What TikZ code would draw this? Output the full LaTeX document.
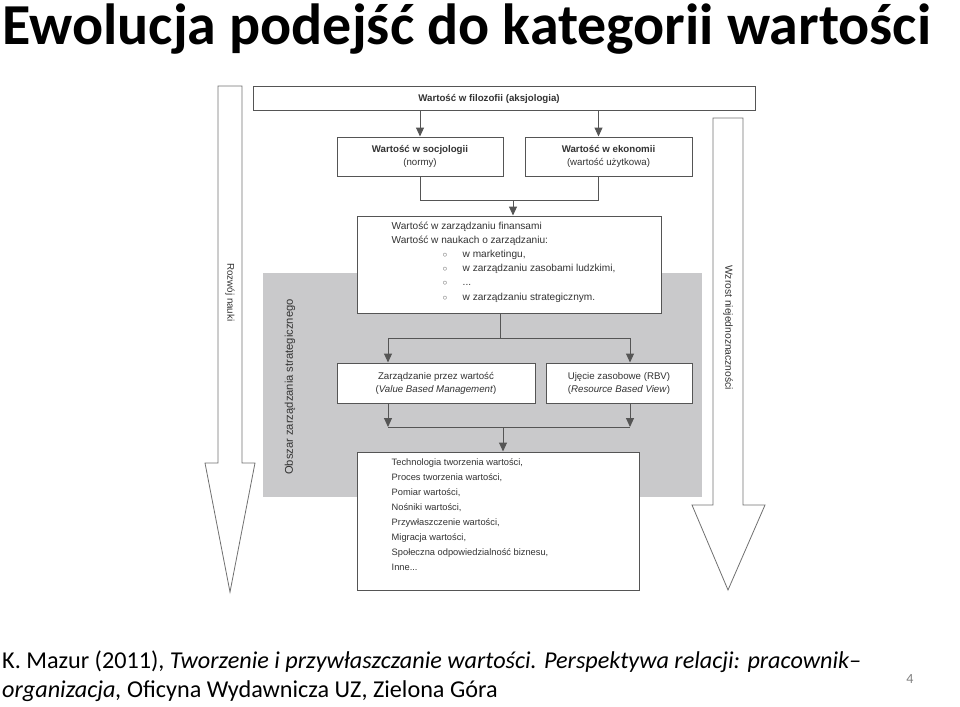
\documentclass[tikz,border=0pt]{standalone}
\usepackage{fontspec}
\setmainfont{Carlito}
\newfontfamily\diagfont{Liberation Sans}
\usepackage{xcolor}
\definecolor{frameGray}{HTML}{555555}
\definecolor{areaGray}{HTML}{C9C9CB}
\definecolor{textGray}{HTML}{333333}
\definecolor{arrowGray}{HTML}{707070}
\usetikzlibrary{arrows.meta,calc}

\begin{document}
\begin{tikzpicture}[x=1pt, y=-1pt, >={Triangle[width=8pt,length=9pt]},
  box/.style={draw=frameGray, line width=1pt, fill=white, inner sep=0pt, align=center,
    font=\diagfont\fontsize{9.7}{13}\selectfont, text=textGray},
  conn/.style={draw=frameGray, line width=1pt},
  txt/.style={anchor=north west, align=left, inner sep=0pt, text=textGray},
  sideTxt/.style={inner sep=0pt, text=textGray},
  bigArrow/.style={draw=arrowGray, line width=0.8pt, fill=white}]
  \useasboundingbox (0,0) rectangle (960,706);
  \node[anchor=base west, inner sep=0pt, font=\bfseries\fontsize{58}{70}\selectfont] (title) at (2,45) {Ewolucja podejść do kategorii wartości};
  % shaded area
  \fill[areaGray] (263,273) rectangle (702,497);
  \node[sideTxt, rotate=90, anchor=west, font=\diagfont\fontsize{11.2}{12}\selectfont] (obszar) at (290,475) {Obszar zarządzania strategicznego};
  % the two big arrows
  \draw[bigArrow] (218,86) -- (242,86) -- (242,463) -- (255,463) -- (230,592) -- (205,463) -- (218,463) -- cycle;
  \node[sideTxt, rotate=-90, anchor=west, font=\diagfont\fontsize{9.8}{11}\selectfont] (rozwoj) at (230,263) {Rozwój nauki};
  \draw[bigArrow] (713,118) -- (743,118) -- (743,505) -- (765,505) -- (728,590) -- (692,505) -- (713,505) -- cycle;
  \node[sideTxt, rotate=-90, anchor=west, font=\diagfont\fontsize{10.3}{11}\selectfont] (wzrost) at (728,265) {Wzrost niejednoznaczności};

  \node[box, minimum width=502, minimum height=24] (filo) at (504,99) {\bfseries Wartość w filozofii (aksjologia)\hspace*{30pt}};
  \node[box, minimum width=166, minimum height=39] (soc) at (420,156.5) {{\bfseries Wartość w socjologii}\\(normy)};
  \node[box, minimum width=167, minimum height=39] (eko) at (608.5,156.5) {{\bfseries Wartość w ekonomii}\\(wartość użytkowa)};
  \node[box, minimum width=304, minimum height=97] (nauki) at (509,264.5) {};
  \node[txt, font=\diagfont\fontsize{10.1}{14.2}\selectfont] (naukiTxt) at ([shift={(35,6)}]nauki.north west) {%
    Wartość w zarządzaniu finansami\\
    Wartość w naukach o zarządzaniu:\\
    \hspace*{51pt}\makebox[20pt][l]{\fontsize{8}{8}\selectfont ○}w marketingu,\\
    \hspace*{51pt}\makebox[20pt][l]{\fontsize{8}{8}\selectfont ○}w zarządzaniu zasobami ludzkimi,\\
    \hspace*{51pt}\makebox[20pt][l]{\fontsize{8}{8}\selectfont ○}...\\
    \hspace*{51pt}\makebox[20pt][l]{\fontsize{8}{8}\selectfont ○}w zarządzaniu strategicznym.};
  \node[box, minimum width=198, minimum height=40] (vbm) at (436,383) {Zarządzanie przez wartość\\(\textit{Value Based Management})};
  \node[box, minimum width=146, minimum height=40] (rbv) at (619,383) {Ujęcie zasobowe (RBV)\\(\textit{Resource Based View})};
  \node[box, minimum width=282, minimum height=138] (inne) at (498,521) {};
  \node[txt, font=\diagfont\fontsize{9.3}{15}\selectfont] (inneTxt) at ([shift={(35,7)}]inne.north west) {%
    Technologia tworzenia wartości,\\
    Proces tworzenia wartości,\\
    Pomiar wartości,\\
    Nośniki wartości,\\
    Przywłaszczenie wartości,\\
    Migracja wartości,\\
    Społeczna odpowiedzialność biznesu,\\
    Inne...};

  % connectors
  \coordinate (ekoIn) at ([xshift=-10pt]eko.north);
  \coordinate (ekoOut) at ([xshift=-10pt]eko.south);
  \coordinate (join1) at (513,200);
  \coordinate (join2) at (500,338);
  \coordinate (join3) at (503,427);
  \coordinate (vbmIn) at (388,0 |- vbm.north);
  \coordinate (vbmOut) at (388,0 |- vbm.south);
  \coordinate (rbvIn) at (630,0 |- rbv.north);
  \coordinate (rbvOut) at (630,0 |- rbv.south);
  \draw[conn, ->] (soc.north |- filo.south) -- (soc.north);
  \draw[conn, ->] (ekoIn |- filo.south) -- (ekoIn);
  \draw[conn] (soc.south) |- (ekoOut |- join1) -- (ekoOut);
  \draw[conn, ->] (join1) -- (join1 |- nauki.north);
  \draw[conn] (join2 |- nauki.south) -- (join2);
  \draw[conn, ->] (join2) -| (vbmIn);
  \draw[conn, ->] (join2) -| (rbvIn);
  \draw[conn, ->] (vbmOut) -- (vbmOut |- join3);
  \draw[conn, ->] (rbvOut) -- (rbvOut |- join3);
  \draw[conn] (vbmOut |- join3) -- (rbvOut |- join3);
  \draw[conn, ->] (join3) -- (join3 |- inne.north);

  \node[anchor=base west, inner sep=0pt, font=\fontsize{24.2}{29}\selectfont] (cite1) at (2,668) {K. Mazur (2011), \textit{Tworzenie i przywłaszczanie wartości. Perspektywa relacji: pracownik–}};
  \node[anchor=base west, inner sep=0pt, font=\fontsize{24.2}{29}\selectfont] (cite2) at (2,697) {\textit{organizacja,} Oficyna Wydawnicza UZ, Zielona Góra};
  \node[text=gray, inner sep=0pt, font=\fontsize{14}{16}\selectfont] (pageNo) at (910,679) {4};
\end{tikzpicture}
\end{document}
